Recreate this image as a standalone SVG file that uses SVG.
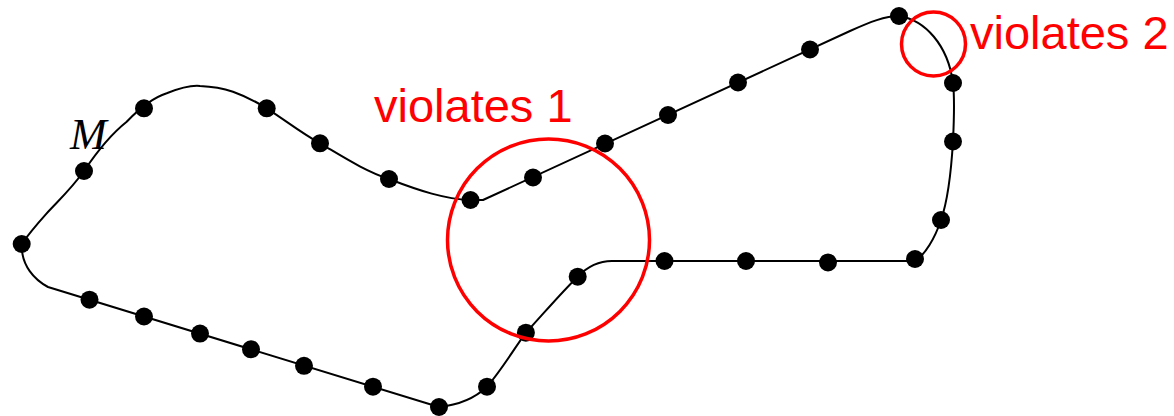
<svg xmlns="http://www.w3.org/2000/svg" width="1174" height="416" viewBox="0 0 1174 416">
<style>
.curve{fill:none;stroke:#000;stroke-width:2;stroke-linejoin:round}
.dot{fill:#000}
.ring{fill:none;stroke:#ff0000;stroke-width:3.5}
.lbl{font-family:"Liberation Sans",Arial,sans-serif;font-size:47px;fill:#ff0000}
.m{font-family:"Liberation Serif","Times New Roman",serif;font-style:italic;font-size:44px;fill:#000}
</style>
<rect width="1174" height="416" fill="#fff"/>
<g id="connectors">
<path class="curve" d="M 439,407 L 48,287 C 35,280 21,266 21.7,244 C 30,232 38,223 46.7,213.3 C 60,199 72,188 84,171 C 98,150 110,135 126.7,121.7 C 140,108 152,98 166.7,93.3 C 180,88 190,85 200,86 C 212,86.5 222,88 233,91.7 C 245,96 255,101 266.7,108.3 C 285,120 300,132 320,143.3 C 345,158 365,171 389,179 C 420,191 445,199 470,200 L 483,200 L 850,31 C 870,22 885,16 899,16 C 925,20 948,45 953,83 C 955,100 954,120 953,141 C 951,175 948,200 941,220 C 935,238 925,255 915,261 L 612,261 C 598,261 588,266 577.7,276.7 C 560,294 545,312 525.9,332.7 C 512,352 500,372 487,386.7 C 475,398 458,405 439,407 Z"/>
</g>
<g id="label-M"><text class="m" x="70" y="149">M</text></g>
<g id="p1"><circle class="dot" cx="84" cy="171" r="9"/></g>
<g id="p2"><circle class="dot" cx="144" cy="108.3" r="9"/></g>
<g id="p3"><circle class="dot" cx="266.7" cy="108.3" r="9"/></g>
<g id="p4"><circle class="dot" cx="320" cy="143.3" r="9"/></g>
<g id="p5"><circle class="dot" cx="389" cy="179" r="9"/></g>
<g id="p6"><circle class="dot" cx="470.5" cy="200" r="9"/></g>
<g id="p7"><circle class="dot" cx="533" cy="177.5" r="9"/></g>
<g id="p8"><circle class="dot" cx="605" cy="143.5" r="9"/></g>
<g id="p9"><circle class="dot" cx="668" cy="115" r="9"/></g>
<g id="p10"><circle class="dot" cx="738" cy="82.5" r="9"/></g>
<g id="p11"><circle class="dot" cx="810" cy="49.5" r="9"/></g>
<g id="p12"><circle class="dot" cx="899" cy="16" r="9"/></g>
<g id="p13"><circle class="dot" cx="953" cy="83" r="9"/></g>
<g id="p14"><circle class="dot" cx="953" cy="141.5" r="9"/></g>
<g id="p15"><circle class="dot" cx="941" cy="220" r="9"/></g>
<g id="p16"><circle class="dot" cx="915" cy="259" r="9"/></g>
<g id="p17"><circle class="dot" cx="828" cy="262.5" r="9"/></g>
<g id="p18"><circle class="dot" cx="746" cy="261" r="9"/></g>
<g id="p19"><circle class="dot" cx="664.5" cy="261" r="9"/></g>
<g id="p20"><circle class="dot" cx="577.7" cy="276.7" r="9"/></g>
<g id="p21"><circle class="dot" cx="525.9" cy="332.7" r="9"/></g>
<g id="p22"><circle class="dot" cx="487" cy="386.7" r="9"/></g>
<g id="p23"><circle class="dot" cx="439" cy="407" r="9"/></g>
<g id="p24"><circle class="dot" cx="373" cy="386.7" r="9"/></g>
<g id="p25"><circle class="dot" cx="304" cy="365.8" r="9"/></g>
<g id="p26"><circle class="dot" cx="251" cy="349.3" r="9"/></g>
<g id="p27"><circle class="dot" cx="200" cy="333.6" r="9"/></g>
<g id="p28"><circle class="dot" cx="144" cy="316.5" r="9"/></g>
<g id="p29"><circle class="dot" cx="89.5" cy="299.7" r="9"/></g>
<g id="p30"><circle class="dot" cx="21.7" cy="244" r="9"/></g>
<g id="violation1">
<circle class="ring" cx="548.5" cy="240" r="101"/>
<text class="lbl" x="374" y="122">violates 1</text>
</g>
<g id="violation2">
<circle class="ring" cx="933.5" cy="44" r="32"/>
<text class="lbl" x="970" y="49">violates 2</text>
</g>
</svg>
